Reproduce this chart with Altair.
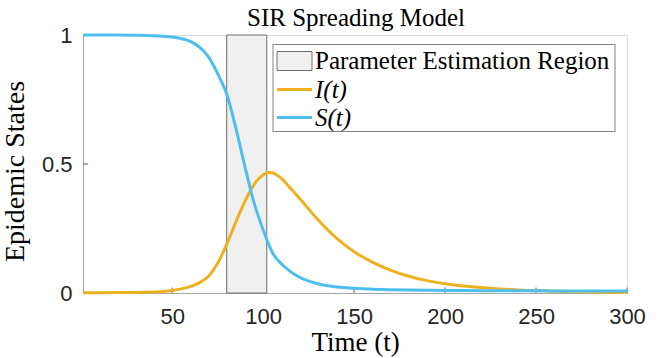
import altair as alt
import pandas as pd

# ---- data ----
t_vals = [1, 10, 20, 30, 40, 45, 50, 55, 60, 65, 70, 75, 80, 85, 90, 95, 100, 103, 105, 110,
          115, 120, 130, 140, 150, 160, 170, 180, 190, 200, 210, 220, 230, 240, 250, 260, 280, 300]
s_vals = [1.0, 1.0, 1.0, 0.999, 0.997, 0.995, 0.992, 0.986, 0.975, 0.953, 0.915, 0.85, 0.77, 0.64, 0.49,
          0.35, 0.245, 0.19, 0.158, 0.113, 0.083, 0.061, 0.036, 0.024, 0.018, 0.015, 0.013, 0.012, 0.011,
          0.010, 0.0095, 0.009, 0.009, 0.0085, 0.0085, 0.008, 0.008, 0.008]
i_vals = [0.0005, 0.001, 0.0015, 0.002, 0.004, 0.006, 0.01, 0.016, 0.025, 0.04, 0.065, 0.115, 0.19, 0.275,
          0.355, 0.42, 0.458, 0.467, 0.466, 0.444, 0.406, 0.367, 0.285, 0.215, 0.16, 0.12, 0.089, 0.065,
          0.048, 0.036, 0.027, 0.021, 0.016, 0.012, 0.009, 0.007, 0.004, 0.002]
series_names = ["I(t)", "S(t)"]
series_colors = ["#EDB120", "#4DBEEE"]
region = [80, 102]
x_ticks = [50, 100, 150, 200, 250, 300]
y_ticks = [0, 0.5, 1]
legend_labels = ["Parameter Estimation Region", "I(t)", "S(t)"]
title_text = "SIR Spreading Model"
x_title = "Time (t)"
y_title = "Epidemic States"

W, H = 544, 258
SERIF = "Liberation Serif"
SANS = "Liberation Sans"

df = pd.concat([
    pd.DataFrame({"t": t_vals, "value": i_vals, "series": series_names[0]}),
    pd.DataFrame({"t": t_vals, "value": s_vals, "series": series_names[1]}),
], ignore_index=True)

xscale = alt.Scale(domain=[1, 300], nice=False, zero=False)
yscale = alt.Scale(domain=[0, 1], nice=False, zero=False)
cscale = alt.Scale(domain=series_names, range=series_colors)

xaxis = alt.Axis(values=x_ticks, title=x_title, ticks=False, tickSize=0, grid=False,
                 labelFont=SANS, labelFontSize=22, labelColor="#262626", labelPadding=13,
                 labelFlush=False, labelOverlap=False,
                 domainColor="#A8A8A8", domainWidth=1.2,
                 titleFont=SERIF, titleFontSize=27, titleFontWeight="normal", titleColor="black",
                 titleBaseline="alphabetic", titleY=57)
yaxis = alt.Axis(values=y_ticks, format="~g", title=y_title, ticks=False, tickSize=0, grid=False,
                 labelFont=SANS, labelFontSize=22, labelColor="#262626", labelPadding=11,
                 labelFlush=False, labelOverlap=False,
                 domainColor="#A8A8A8", domainWidth=1.2,
                 titleFont=SERIF, titleFontSize=28, titleFontWeight="normal", titleColor="black",
                 titleAngle=270, titleBaseline="alphabetic", titleAlign="center",
                 titleX=-60, titleY=H / 2 + 7)

# inward tick marks (MATLAB style)
xt = alt.Chart(pd.DataFrame({"t": x_ticks})).mark_rule(color="#606060", strokeWidth=1).encode(
    x=alt.X("t:Q", scale=xscale, axis=xaxis),
    y=alt.datum(0, scale=yscale, axis=yaxis),
    y2=alt.datum(0.021),
)
yt = alt.Chart(pd.DataFrame({"v": y_ticks})).mark_rule(color="#606060", strokeWidth=1).encode(
    y=alt.Y("v:Q", scale=yscale, axis=yaxis),
    x=alt.datum(1, scale=xscale, axis=xaxis),
    x2=alt.datum(3.8),
)

reg = alt.Chart(pd.DataFrame({"x0": [region[0]], "x1": [region[1]]})).mark_rect(
    fill="#F0F0F0", stroke="#6E6E6E", strokeWidth=1).encode(
    x=alt.X("x0:Q", scale=xscale, axis=xaxis),
    x2="x1:Q",
    y=alt.datum(0, scale=yscale, axis=yaxis),
    y2=alt.datum(1),
)

def series_line(name):
    return alt.Chart(df).transform_filter(alt.datum.series == name).mark_line(
        strokeWidth=3, interpolate="monotone").encode(
        x=alt.X("t:Q", scale=xscale, axis=xaxis),
        y=alt.Y("value:Q", scale=yscale, axis=yaxis),
        color=alt.Color("series:N", scale=cscale, legend=None),
    )

line_i = series_line(series_names[0])
line_s = series_line(series_names[1])

one = pd.DataFrame({"k": [0]})

# chart title, centred over the plot area
title_mark = alt.Chart(pd.DataFrame({"label": [title_text]})).mark_text(
    align="center", baseline="alphabetic", font=SERIF, fontSize=25, color="black").encode(
    x=alt.value(W / 2 + 1), y=alt.value(-9.5), text="label:N")

# ---- manual legend (MATLAB style box) ----
leg_box = alt.Chart(one).mark_rect(fill="white", stroke="#808080", strokeWidth=1).encode(
    x=alt.value(190), x2=alt.value(532), y=alt.value(9.5), y2=alt.value(96.5))
leg_patch = alt.Chart(one).mark_rect(fill="#F0F0F0", stroke="#6E6E6E", strokeWidth=1).encode(
    x=alt.value(194), x2=alt.value(229), y=alt.value(16.5), y2=alt.value(35.5))
leg_li = alt.Chart(one).mark_rule(strokeWidth=3, color=series_colors[0]).encode(
    x=alt.value(194), x2=alt.value(229), y=alt.value(54.5))
leg_ls = alt.Chart(one).mark_rule(strokeWidth=3, color=series_colors[1]).encode(
    x=alt.value(194), x2=alt.value(229), y=alt.value(82.5))
leg_rows = [25.5, 54.5, 82.5]
leg_texts = []
for lab, yy, style in zip(legend_labels, leg_rows, ["normal", "italic", "italic"]):
    leg_texts.append(
        alt.Chart(pd.DataFrame({"label": [lab]})).mark_text(
            align="left", baseline="middle", font=SERIF, fontSize=25, fontStyle=style,
            color="black").encode(x=alt.value(232), y=alt.value(yy), text="label:N"))

chart = alt.layer(xt, yt, reg, line_i, line_s, leg_box, leg_patch, leg_li, leg_ls, *leg_texts,
                  title_mark).properties(
    width=W, height=H,
    padding={"left": 83, "top": 35, "right": 40, "bottom": 65},
    autosize=alt.AutoSizeParams(type="none"),
).configure_view(stroke=None).configure(background="white")

chart.save("out.html", embed_options={"renderer": "svg", "actions": False})
